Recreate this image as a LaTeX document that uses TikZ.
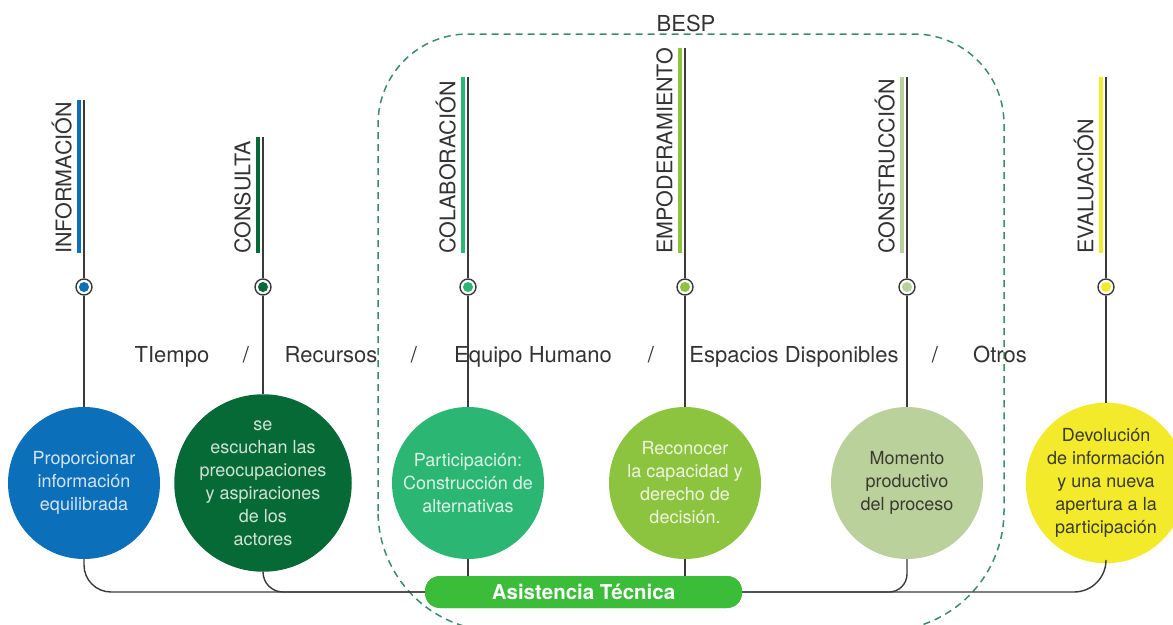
\documentclass[tikz,border=0pt]{standalone}
\usepackage{fontspec}
\setmainfont{TeX Gyre Heros}
\usepackage{tikz}

\definecolor{infoblue}{HTML}{0B6FBA}
\definecolor{consgreen}{HTML}{066A36}
\definecolor{colabgreen}{HTML}{2BB673}
\definecolor{empolime}{HTML}{8CC43F}
\definecolor{constsage}{HTML}{BBD19B}
\definecolor{evalyellow}{HTML}{F3EA2C}
\definecolor{pillgreen}{HTML}{3BBD3A}
\definecolor{bespteal}{HTML}{3D8C69}
\definecolor{linegray}{HTML}{3A3A3A}
\definecolor{labelgray}{HTML}{333333}
\definecolor{infotext}{HTML}{D4E4F3}
\definecolor{constext}{HTML}{CFE3D4}
\definecolor{colabtext}{HTML}{DDF3E6}
\definecolor{empotext}{HTML}{EEF5DF}
\definecolor{darktext}{HTML}{3A3A2E}

\begin{document}
\begin{tikzpicture}[x=1pt,y=-1pt,
    stem/.style={draw=linegray,line width=1.4pt},
    bar/.style={line width=4.5pt},
    marker/.style={circle,draw=linegray,line width=1.4pt,fill=white,minimum size=16pt,inner sep=0pt,
      path picture={\fill[#1] (path picture bounding box.center) circle (5pt);}},
    phase/.style={rotate=90,anchor=south west,inner sep=0pt,text=labelgray,font=\fontsize{21.5}{24}\selectfont},
    bubble/.style={circle,minimum size=152pt,inner sep=0pt,align=center,font=\fontsize{18}{23}\selectfont},
    resource/.style={anchor=base,inner sep=0pt,text=labelgray,font=\fontsize{22}{26}\selectfont},
    pill/.style={fill=pillgreen,rounded corners=15pt,minimum width=317pt,minimum height=32pt,inner sep=0pt,
      text=white,font=\bfseries\fontsize{20.5}{24}\selectfont},
    bespbox/.style={draw=bespteal,line width=1.5pt,dash pattern=on 7pt off 5pt}]
  \useasboundingbox (0,0) rectangle (1173,624);

  % BESP group
  \draw[bespbox] (378,511) -- (378,124) arc[start angle=180,end angle=270,radius=90]
    -- (914,34) arc[start angle=270,end angle=360,radius=90]
    -- (1004,511) arc[start angle=0,end angle=90,radius=120]
    -- (498,631) arc[start angle=90,end angle=180,radius=120] -- cycle;
  \node[text=labelgray,font=\fontsize{22}{26}\selectfont] (besp) at (686,23) {BESP};

  % top ends of the stems
  \coordinate (t1) at (84,100);
  \coordinate (t2) at (263,137);
  \coordinate (t3) at (468,77);
  \coordinate (t4) at (685,48);
  \coordinate (t5) at (907,77);
  \coordinate (t6) at (1106,77);

  % coloured bars and phase names
  \draw[bar,infoblue] (79,100) -- (79,253);
  \draw[bar,consgreen] (258,137) -- (258,253);
  \draw[bar,colabgreen] (463,77) -- (463,253);
  \draw[bar,empolime] (680,48) -- (680,253);
  \draw[bar,constsage] (902,77) -- (902,253);
  \draw[bar,evalyellow] (1101,77) -- (1101,253);

  \node[phase] (l1) at (72,254) {INFORMACIÓN};
  \node[phase] (l2) at (251,254) {CONSULTA};
  \node[phase] (l3) at (456,254) {COLABORACIÓN};
  \node[phase] (l4) at (673,254) {EMPODERAMIENTO};
  \node[phase] (l5) at (895,254) {CONSTRUCCIÓN};
  \node[phase] (l6) at (1094,254) {EVALUACIÓN};

  % markers
  \node[marker=infoblue] (m1) at (84,287) {};
  \node[marker=consgreen] (m2) at (263,287) {};
  \node[marker=colabgreen] (m3) at (468,287) {};
  \node[marker=empolime] (m4) at (685,287) {};
  \node[marker=constsage] (m5) at (907,287) {};
  \node[marker=evalyellow] (m6) at (1106,287) {};

  % circles
  \node[bubble,fill=infoblue,text=infotext] (c1) at (84,483) {Proporcionar\\información\\equilibrada};
  \node[bubble,fill=consgreen,text=constext] (c2) at (263,483) {se\\escuchan las\\preocupaciones\\y aspiraciones\\de los\\actores};
  \node[bubble,fill=colabgreen,text=colabtext] (c3) at (468,483) {Participación:\\Construcción de\\alternativas};
  \node[bubble,fill=empolime,text=empotext] (c4) at (685,483) {Reconocer\\la capacidad y\\derecho de\\decisión.};
  \node[bubble,fill=constsage,text=darktext] (c5) at (907,483) {Momento\\productivo\\del proceso};
  \node[bubble,fill=evalyellow,text=darktext] (c6) at (1106,483) {Devolución\\de información\\y una nueva\\apertura a la\\participación};

  \draw[stem] (t1) -- (m1) -- (c1);
  \draw[stem] (t2) -- (m2) -- (c2);
  \draw[stem] (t3) -- (m3) -- (c3);
  \draw[stem] (t4) -- (m4) -- (c4);
  \draw[stem] (t5) -- (m5) -- (c5);
  \draw[stem] (t6) -- (m6) -- (c6);

  % resources row
  \node[resource] (r1) at (172,362) {TIempo};
  \node[resource] (s1) at (246,362) {/};
  \node[resource] (r2) at (331,362) {Recursos};
  \node[resource] (s2) at (414,362) {/};
  \node[resource] (r3) at (533,362) {Equipo Humano};
  \node[resource] (s3) at (651,362) {/};
  \node[resource] (r4) at (794,362) {Espacios Disponibles};
  \node[resource] (s4) at (935,362) {/};
  \node[resource] (r5) at (1000,362) {Otros};

  % base line
  \node[pill] (at) at (583.5,592) {};
  \draw[stem,rounded corners=27pt] (c1.south) |- (at.west);
  \draw[stem,rounded corners=20pt] (c2.south) |- (at.west);
  \draw[stem] (c3.south) -- (c3.south |- at.north);
  \draw[stem] (c4.south) -- (c4.south |- at.north);
  \draw[stem,rounded corners=18pt] (c5.south) |- (at.east);
  \draw[stem,rounded corners=32pt] (c6.south) |- (at.east);
  \node[pill] at (at) {Asistencia Técnica};
\end{tikzpicture}
\end{document}
